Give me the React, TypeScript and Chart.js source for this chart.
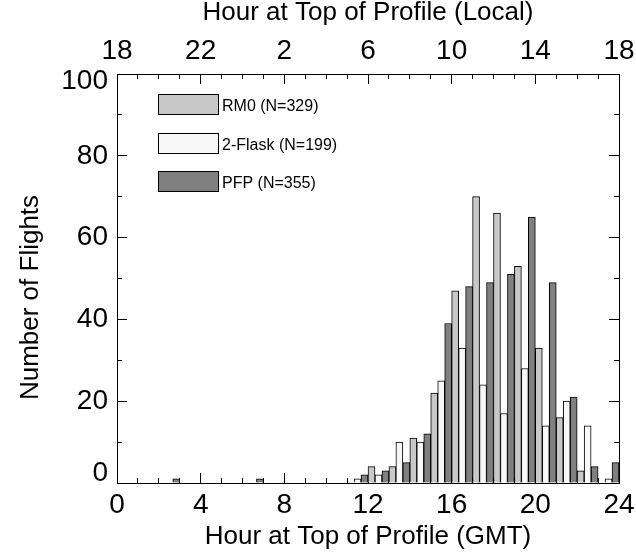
import React, { useEffect, useRef } from "react";
import { Chart, registerables } from "chart.js";

Chart.register(...registerables);

// ---- data ----
const HOURS = ["0", "1", "2", "3", "4", "5", "6", "7", "8", "9", "10", "11", "12", "13", "14", "15", "16", "17", "18", "19", "20", "21", "22", "23"];
const RM0 = [0, 0, 0, 0, 0, 0, 0, 0, 0, 0, 0, 0, 4, 4, 11, 22, 47, 70, 66, 53, 33, 16, 3, 0];
const FLASK2 = [0, 0, 0, 0, 0, 0, 0, 0, 0, 0, 0, 1, 2, 10, 10, 25, 33, 24, 17, 28, 14, 20, 14, 1];
const PFP = [0, 0, 1, 0, 0, 0, 1, 0, 0, 0, 0, 2, 3, 5, 12, 39, 48, 49, 51, 65, 49, 21, 4, 5];
const SERIES_LABELS = ["RM0 (N=329)", "2-Flask (N=199)", "PFP (N=355)"];
const GMT_TICKS = [0, 4, 8, 12, 16, 20, 24];
const LOCAL_LABELS = ["18", "22", "2", "6", "10", "14", "18"];
const X_TITLE = "Hour at Top of Profile (GMT)";
const TOP_TITLE = "Hour at Top of Profile (Local)";
const Y_TITLE = "Number of Flights";

const FONT = "'Liberation Sans', Arial, Helvetica, sans-serif";
const COLORS = ["#c8c8c8", "#f8f8f8", "#808080"];

const noPad = (s: any) => {
  s.paddingLeft = 0;
  s.paddingRight = 0;
  s.paddingTop = 0;
  s.paddingBottom = 0;
};
const fixW = (w: number) => (s: any) => { s.width = w; noPad(s); };
const fixH = (h: number) => (s: any) => { s.height = h; noPad(s); };

const tickFont = { family: FONT, size: 28, lineHeight: 1 };
const titleFont = { family: FONT, size: 26, lineHeight: 1 };

const axisGrid = (len: number) => ({
  offset: false,
  drawOnChartArea: false,
  drawTicks: true,
  tickLength: len,
  color: "#000",
  tickColor: "#000",
  lineWidth: 1,
  tickWidth: 1,
});

const overlayPlugin = {
  id: "overlay",
  afterDraw(chart: any) {
    const ctx = chart.ctx;
    const a = chart.chartArea;
    ctx.save();
    // y axis title
    ctx.translate(31, (a.top + a.bottom) / 2 + 19);
    ctx.rotate(-Math.PI / 2);
    ctx.textAlign = "center";
    ctx.textBaseline = "middle";
    ctx.fillStyle = "#000";
    ctx.font = `26px ${FONT}`;
    ctx.fillText(Y_TITLE, 0, 0);
    ctx.restore();

    // legend
    ctx.save();
    chart.data.datasets.forEach((ds: any, i: number) => {
      const x = a.left + 41;
      const y = a.top + 20 + i * 38.5;
      ctx.fillStyle = ds.backgroundColor;
      ctx.fillRect(x, y, 60, 20);
      ctx.strokeStyle = "#000";
      ctx.lineWidth = 1;
      ctx.strokeRect(Math.round(x) + 0.5, Math.round(y) + 0.5, 60, 20);
      ctx.fillStyle = "#000";
      ctx.font = `16px ${FONT}`;
      ctx.textAlign = "left";
      ctx.textBaseline = "alphabetic";
      ctx.fillText(ds.label, x + 64, y + 17);
    });
    ctx.restore();
  },
};

export default function App() {
  const ref = useRef<HTMLCanvasElement | null>(null);

  useEffect(() => {
    if (!ref.current) return;
    const chart = new Chart(ref.current, {
      type: "bar",
      data: {
        labels: HOURS,
        datasets: [RM0, FLASK2, PFP].map((d, i) => ({
          label: SERIES_LABELS[i],
          data: d,
          backgroundColor: COLORS[i],
          borderColor: "#000",
          borderWidth: 1,
          xAxisID: "xc",
          yAxisID: "y",
          categoryPercentage: 1,
          barPercentage: 1,
        })),
      },
      options: {
        animation: false,
        responsive: false,
        devicePixelRatio: 1,
        events: [],
        layout: { padding: 0 },
        plugins: {
          legend: { display: false },
          tooltip: { enabled: false },
          title: { display: false },
        },
        scales: {
          xc: {
            type: "category",
            labels: HOURS,
            display: false,
            offset: true,
          },
          x: {
            type: "linear",
            position: "bottom",
            offset: false,
            min: 0,
            max: 24,
            weight: 1,
            ticks: {
              stepSize: 4,
              autoSkip: false,
              maxRotation: 0,
              padding: 18,
              color: "#000",
              font: tickFont,
              callback: (v: any) => String(v),
            },
            grid: axisGrid(-10),
            border: { display: true, color: "#000", width: 1 },
            title: {
              display: true,
              text: X_TITLE,
              color: "#000",
              font: titleFont,
              padding: { top: 0, bottom: 7 },
            },
            afterFit: fixH(74),
          },
          xMinor: {
            type: "linear",
            position: "bottom",
            offset: false,
            min: 0,
            max: 24,
            weight: 0,
            ticks: { display: false, stepSize: 1, maxTicksLimit: 100 },
            grid: axisGrid(-5),
            border: { display: false },
            afterFit: fixH(0),
          },
          xTop: {
            type: "linear",
            position: "top",
            offset: false,
            min: 0,
            max: 24,
            weight: 1,
            ticks: {
              stepSize: 4,
              autoSkip: false,
              maxRotation: 0,
              padding: 19,
              color: "#000",
              font: tickFont,
              callback: (v: any) => {
                const k = GMT_TICKS.indexOf(v);
                return k >= 0 ? LOCAL_LABELS[k] : "";
              },
            },
            grid: axisGrid(-10),
            border: { display: true, color: "#000", width: 1 },
            title: {
              display: true,
              text: TOP_TITLE,
              color: "#000",
              font: titleFont,
              padding: { top: 0, bottom: 0 },
            },
            afterFit: fixH(74),
          },
          xTopMinor: {
            type: "linear",
            position: "top",
            offset: false,
            min: 0,
            max: 24,
            weight: 0,
            ticks: { display: false, stepSize: 1, maxTicksLimit: 100 },
            grid: axisGrid(-5),
            border: { display: false },
            afterFit: fixH(0),
          },
          y: {
            type: "linear",
            position: "left",
            min: 0,
            max: 100,
            weight: 1,
            ticks: {
              stepSize: 20,
              padding: 19,
              color: "#000",
              font: (c: any) => ({
                family: FONT,
                size: 28,
                lineHeight: c.tick && c.tick.value === 0 ? "20px" : c.tick && c.tick.value === 100 ? "14px" : 1,
              }),
              callback: (v: any) => (v === 0 ? ["0", ""] : v === 100 ? ["", "100"] : String(v)),
            },
            grid: axisGrid(-10),
            border: { display: true, color: "#000", width: 1 },
            title: { display: false },
            afterFit: fixW(117),
          },
          yMinor: {
            type: "linear",
            position: "left",
            min: 0,
            max: 100,
            weight: 0,
            ticks: { display: false, stepSize: 10, maxTicksLimit: 100 },
            grid: axisGrid(-5),
            border: { display: false },
            afterFit: fixW(0),
          },
          yRight: {
            type: "linear",
            position: "right",
            min: 0,
            max: 100,
            weight: 1,
            ticks: { display: false, stepSize: 20 },
            grid: axisGrid(-10),
            border: { display: true, color: "#000", width: 1 },
            afterFit: fixW(17),
          },
          yRightMinor: {
            type: "linear",
            position: "right",
            min: 0,
            max: 100,
            weight: 0,
            ticks: { display: false, stepSize: 10, maxTicksLimit: 100 },
            grid: axisGrid(-5),
            border: { display: false },
            afterFit: fixW(0),
          },
        },
      } as any,
      plugins: [overlayPlugin],
    });
    return () => chart.destroy();
  }, []);

  return (
    <div style={{ position: "absolute", left: 0, top: 0, width: 636, height: 557, background: "#fff" }}>
      <canvas ref={ref} width={636} height={557} style={{ display: "block" }} />
    </div>
  );
}
